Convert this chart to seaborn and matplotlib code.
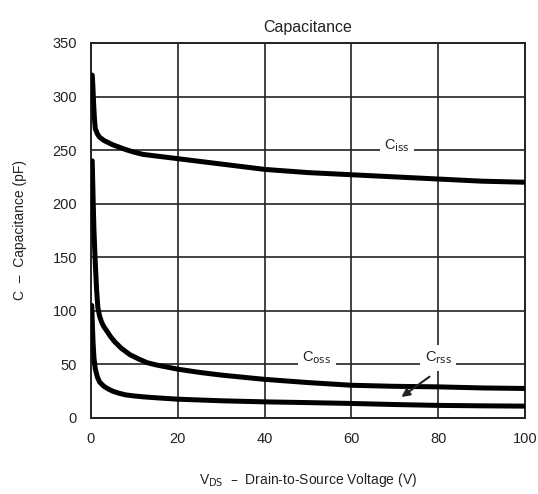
import numpy as np
import pandas as pd
import seaborn as sns
import matplotlib
matplotlib.use("Agg")
import matplotlib.pyplot as plt

# Data
ciss_v = [0.3, 0.45, 0.6, 0.8, 1, 1.5, 2, 3, 4, 5, 6, 7, 8, 10, 12, 15, 20, 25, 30, 40, 50, 60, 70, 80, 90, 100]
ciss_c = [320, 310, 295, 280, 270, 265, 262, 259, 257, 255, 253.5, 252, 250.5, 248, 246, 244.5, 242, 239.5, 237, 232, 229, 227, 225, 223, 221, 220]

coss_v = [0.3, 0.5, 0.7, 1, 1.3, 1.6, 2, 2.5, 3, 3.7, 4.5, 5.5, 7, 9, 11, 13, 15, 20, 25, 30, 40, 50, 60, 70, 80, 90, 100]
coss_c = [240, 205, 175, 145, 120, 103, 95, 89, 85, 81, 76, 71, 65, 59, 55, 51.5, 49.5, 45.5, 42.5, 40, 36, 33, 30.5, 29.5, 29, 28, 27.5]

crss_v = [0.2, 0.35, 0.5, 0.7, 1, 1.5, 2, 3, 4, 5, 6.5, 8, 10, 12, 15, 20, 30, 40, 50, 60, 70, 80, 90, 100]
crss_c = [105, 85, 70, 56, 46, 38, 33.5, 29.5, 27, 25, 23, 21.5, 20.5, 19.7, 18.8, 17.5, 16, 15, 14.3, 13.5, 12.5, 11.7, 11.3, 11]

x_ticks = [0, 20, 40, 60, 80, 100]
y_ticks = [0, 50, 100, 150, 200, 250, 300, 350]

df = pd.concat([
    pd.DataFrame({"V": ciss_v, "C": ciss_c, "s": "Ciss"}),
    pd.DataFrame({"V": coss_v, "C": coss_c, "s": "Coss"}),
    pd.DataFrame({"V": crss_v, "C": crss_c, "s": "Crss"}),
])

sns.set_theme(style="white")
plt.rcParams["font.family"] = ["Liberation Sans", "DejaVu Sans"]

fig = plt.figure(figsize=(5.38, 4.94), dpi=100)
ax = fig.add_axes([0.169, 0.154, 0.807, 0.759])

for lab in ["Ciss", "Coss", "Crss"]:
    sub = df[df.s == lab]
    sns.lineplot(data=sub, x="V", y="C", ax=ax, color="black", linewidth=3.6,
                 sort=False, estimator=None, legend=False, zorder=3,
                 solid_joinstyle="round")

ax.set_xlim(0, 100)
ax.set_ylim(0, 350)
ax.set_xticks(x_ticks)
ax.set_yticks(y_ticks)
ax.grid(True, color="#222222", linewidth=1.2)
for sp in ax.spines.values():
    sp.set_color("#222222")
    sp.set_linewidth(1.4)
ax.tick_params(axis="both", length=0, labelsize=10.5, colors="#222222", pad=10)

ax.set_title("Capacitance", fontsize=11.5, color="#222222", pad=8)
ax.set_xlabel("V$_{\\rm DS}$  –  Drain-to-Source Voltage (V)", fontsize=10, color="#222222", labelpad=18)
ax.set_ylabel("C  –  Capacitance (pF)", fontsize=10, color="#222222", labelpad=18)

bbox = dict(facecolor="white", edgecolor="none", pad=3)
ax.text(70.5, 254, "C$_{\\rm iss}$", ha="center", va="center", fontsize=10.5, color="#222222", bbox=bbox, zorder=4)
ax.text(52, 56, "C$_{\\rm oss}$", ha="center", va="center", fontsize=10.5, color="#222222", bbox=bbox, zorder=4)
ax.text(80, 56, "C$_{\\rm rss}$", ha="center", va="center", fontsize=10.5, color="#222222", bbox=bbox, zorder=4)
ax.annotate("", xy=(71, 18), xytext=(78.5, 40),
            arrowprops=dict(arrowstyle="-|>", color="#222222", lw=1.5, mutation_scale=12), zorder=4)

fig.savefig("out.png", dpi=100, facecolor="white")
